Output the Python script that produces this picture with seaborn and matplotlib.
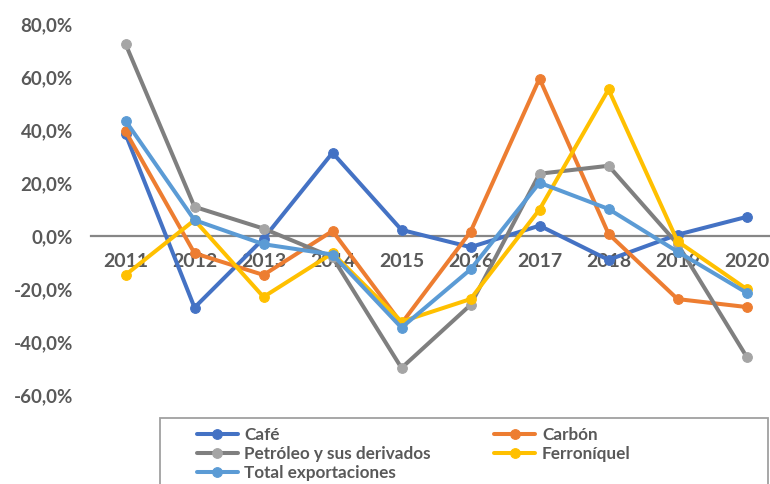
import matplotlib
matplotlib.use('Agg')
import matplotlib.pyplot as plt
from matplotlib.patches import Rectangle
from matplotlib.ticker import FuncFormatter
import seaborn as sns
import pandas as pd

# ── data (annual % change of exports) ───────────────────────────────────────
years = [2011, 2012, 2013, 2014, 2015, 2016, 2017, 2018, 2019, 2020]
cafe        = [38.5, -27.0, -1.0, 31.4, 2.3, -4.2, 3.9, -9.0, 0.5, 7.2]
carbon      = [39.5, -6.5, -14.7, 1.9, -33.0, 1.6, 59.4, 0.8, -23.8, -26.8]
petroleo    = [72.5, 11.0, 2.8, -8.0, -49.8, -26.0, 23.5, 26.5, -3.0, -45.5]
ferroniquel = [-14.7, 6.0, -23.0, -6.5, -32.3, -23.8, 10.0, 55.3, -2.0, -20.0]
total       = [43.5, 6.0, -3.1, -7.0, -34.6, -12.6, 20.1, 10.2, -5.9, -21.4]

series_names = ['Café', 'Carbón', 'Petróleo y sus derivados', 'Ferroníquel',
                'Total exportaciones']
series_vals = [cafe, carbon, petroleo, ferroniquel, total]
line_colors = ['#4472C4', '#ED7D31', '#7F7F7F', '#FFC000', '#5B9BD5']
mark_colors = ['#4472C4', '#ED7D31', '#A5A5A5', '#FFC000', '#5B9BD5']

TXT = '#595959'

sns.set_theme(style='white')
plt.rcParams['font.family'] = ['Lato', 'DejaVu Sans']
plt.rcParams['font.weight'] = 'bold'

fig = plt.figure(figsize=(7.70, 4.84), dpi=100)
ax = fig.add_axes([91 / 770, 1 - 395 / 484, 1 - 91 / 770, (395 - 24) / 484])

handles = {}
for name, vals, lc, mc in zip(series_names, series_vals, line_colors, mark_colors):
    df = pd.DataFrame({'year': years, 'value': vals})
    sns.lineplot(data=df, x='year', y='value', ax=ax, color=lc, linewidth=2.9,
                 marker='o', markersize=7, markerfacecolor=mc,
                 markeredgecolor=mc, label=name, legend=False)
    handles[name] = ax.lines[-1]

ax.set_xlim(2010.5, 2020.34)
ax.set_ylim(-60, 80)
ax.set_yticks(range(-60, 81, 20))
ax.yaxis.set_major_formatter(FuncFormatter(lambda v, p: f'{v:.1f}%'.replace('.', ',')))
ax.set_xticks(years)
ax.set_xlabel('')
ax.set_ylabel('')

for s in ['top', 'right', 'left']:
    ax.spines[s].set_visible(False)
ax.spines['bottom'].set_position(('data', 0))
ax.spines['bottom'].set_color('#868686')
ax.spines['bottom'].set_linewidth(1.6)
ax.spines['bottom'].set_zorder(0)

ax.tick_params(axis='y', length=0, pad=13, labelsize=13.5, labelcolor=TXT)
ax.tick_params(axis='x', length=0, pad=12, labelsize=14, labelcolor=TXT)
for t in ax.get_xticklabels() + ax.get_yticklabels():
    t.set_fontweight('bold')

# ── legend: row-wise order in two columns ───────────────────────────────────
order = ['Café', 'Petróleo y sus derivados', 'Total exportaciones',
         'Carbón', 'Ferroníquel']
leg = fig.legend([handles[n] for n in order], order, loc='upper left',
                 bbox_to_anchor=(188 / 770, 1 - 418 / 484), ncol=2,
                 frameon=False, fontsize=12.3, handlelength=2.4,
                 handletextpad=0.4, columnspacing=3.7, labelspacing=0.2,
                 borderpad=0)
for t in leg.get_texts():
    t.set_color(TXT)
    t.set_fontweight('bold')

fig.patches.append(Rectangle((160 / 770, -0.05), (768 - 160) / 770,
                             0.05 + 1 - 418 / 484, transform=fig.transFigure,
                             fill=False, edgecolor='#A0A0A0', linewidth=1.3))

fig.savefig('out.png', dpi=100)
